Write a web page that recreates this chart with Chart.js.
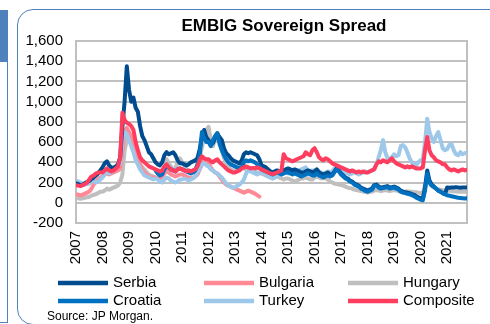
<!DOCTYPE html>
<html>
<head>
<meta charset="utf-8">
<script src="https://cdn.jsdelivr.net/npm/chart.js@4/dist/chart.umd.min.js"></script>
<style>
  html, body { margin: 0; padding: 0; background: #fff; }
  #wrap { position: relative; width: 490px; height: 324px; overflow: hidden; }
  #sidePanel { position: absolute; left: -2px; top: 10px; width: 10px; height: 313px;
    box-sizing: border-box; border: 1.5px solid #4F81BD; }
  #sidePanel .head { height: 51px; background: #4F81BD; }
  #frame { position: absolute; left: 17px; top: 9px; width: 520px; height: 316px;
    box-sizing: border-box; border: 1.5px solid #4F81BD; border-radius: 16px; }
  #spreadChart { position: absolute; left: 0; top: 0; }
</style>
</head>
<body>
<div id="wrap">
  <div id="sidePanel"><div class="head"></div></div>
  <div id="frame"></div>
  <canvas id="spreadChart" width="490" height="324"></canvas>
</div>
<script>
// monthly readings, Jan 2007 - Oct 2021 (bp)
var startYear = 2007;
var tickYears = [2007, 2008, 2009, 2010, 2011, 2012, 2013, 2014, 2015, 2016, 2017, 2018, 2019, 2020, 2021];

var serbia = [
  190, 185, 175, 180, 195, 205, 215, 235, 250, 270, 290, 320,
  350, 390, 410, 370, 350, 345, 360, 380, 450, 750, 1000, 1350,
  1120, 1000, 1040, 940, 900, 760, 660, 620, 560, 500, 480, 440,
  400, 380, 370, 400, 470, 500, 480, 490, 500, 470, 420, 390,
  390, 380, 370, 380, 400, 410, 420, 440, 530, 650, 720, 650,
  620, 570, 590, 640, 680, 650, 620, 540, 490, 470, 440, 420,
  410, 400, 390, 420, 480, 500, 490, 500, 490, 480, 470, 430,
  370, 360, 350, 330, 310, 300, 310, 320, 310, 300, 320, 330,
  340, 330, 320, 330, 320, 310, 300, 300, 310, 320, 310, 300,
  310, 330, 300, 290, 280, 290, 300, 280, 280, 310, 340, 320,
  290, 270, 250, 240, 220, 210, 190, 180, 170, 150, 140, 130,
  120, 130, 140, 175, 180, 160, 150, 155, 160, 165, 150, 155,
  160, 150, 140, 120, 110, 105, 100, 95, 85, 80, 65, 55,
  45, 40, 150, 320, 220, 180, 160, 140, 120, 110, 95, 85,
  150, 148, 152, 150, 155, 150, 148, 152, 150, 150
];

var bulgaria = [
  85, 80, 75, 80, 90, 100, 110, 140, 180, 210, 230, 250,
  260, 280, 290, 280, 290, 300, 310, 320, 340, 520, 700, 740,
  700, 650, 600, 520, 440, 380, 330, 300, 280, 260, 250, 250,
  250, 240, 230, 260, 290, 320, 300, 280, 270, 260, 270, 280,
  280, 270, 260, 250, 240, 250, 260, 280, 330, 380, 420, 410,
  400, 350, 320, 300, 290, 260, 230, 200, 180, 170, 160, 150,
  140, 130, 120, 110, 100, 110, 120, 110, 100, 90, 75, 60,
  null, null, null, null, null, null, null, null, null, null, null, null,
  null, null, null, null, null, null, null, null, null, null, null, null,
  null, null, null, null, null, null, null, null, null, null, null, null,
  null, null, null, null, null, null, null, null, null, null, null, null,
  null, null, null, null, null, null, null, null, null, null, null, null,
  null, null, null, null, null, null, null, null, null, null, null, null,
  null, null, null, null, null, null, null, null, null, null, null, null,
  null, null, null, null, null, null, null, null, null, null
];

var hungary = [
  50, 45, 40, 45, 50, 55, 60, 70, 80, 85, 95, 110,
  110, 120, 140, 130, 140, 150, 160, 170, 200, 280, 520, 620,
  640, 610, 560, 480, 420, 380, 350, 330, 300, 280, 270, 260,
  250, 240, 230, 240, 320, 430, 390, 360, 330, 330, 420, 440,
  400, 370, 330, 310, 300, 320, 330, 380, 450, 550, 640, 720,
  750, 620, 560, 640, 690, 600, 520, 440, 380, 350, 330, 320,
  320, 340, 350, 360, 340, 330, 340, 330, 320, 310, 300, 290,
  290, 280, 270, 260, 250, 240, 250, 260, 250, 240, 230, 240,
  240, 230, 220, 210, 220, 230, 240, 240, 250, 240, 230, 230,
  250, 260, 250, 240, 245, 240, 230, 210, 200, 190, 185, 180,
  175, 170, 160, 150, 145, 140, 130, 125, 120, 115, 110, 105,
  100, 105, 110, 120, 125, 120, 115, 120, 125, 120, 115, 120,
  125, 120, 115, 115, 110, 110, 115, 110, 110, 105, 105, 100,
  95, 90, 180, 240, 200, 170, 150, 140, 135, 130, 125, 120,
  120, 118, 115, 115, 112, 110, 112, 110, 108, 110
];

var croatia = [
  null, null, null, null, null, null, null, null, null, null, null, null,
  null, null, null, null, null, null, null, null, null, null, null, null,
  null, null, null, null, null, null, null, null, null, null, null, null,
  320, 290, 270, 280, 330, 360, 350, 330, 320, 310, 330, 340,
  330, 320, 310, 300, 290, 300, 320, 380, 470, 700, 640, 600,
  600, 560, 620, 660, 690, 580, 520, 470, 430, 400, 380, 370,
  360, 350, 340, 350, 400, 420, 410, 420, 410, 400, 380, 360,
  330, 320, 310, 300, 290, 280, 290, 300, 290, 280, 290, 300,
  300, 290, 280, 290, 280, 270, 260, 270, 280, 290, 280, 270,
  270, 290, 270, 260, 250, 260, 270, 260, 270, 300, 330, 310,
  280, 260, 240, 230, 210, 200, 180, 170, 160, 140, 130, 115,
  110, 120, 130, 165, 170, 150, 140, 145, 150, 155, 140, 145,
  150, 140, 130, 110, 100, 95, 90, 85, 75, 65, 50, 40,
  30, 25, 120, 290, 200, 170, 160, 140, 120, 110, 95, 85,
  75, 70, 65, 60, 55, 50, 48, 45, 42, 45
];

var turkey = [
  220, 210, 200, 190, 180, 185, 190, 210, 220, 200, 210, 230,
  250, 280, 300, 290, 300, 320, 350, 370, 390, 600, 700, 680,
  620, 560, 500, 420, 380, 330, 300, 270, 260, 250, 240, 230,
  240, 230, 210, 200, 230, 250, 240, 220, 210, 200, 210, 230,
  230, 240, 230, 220, 230, 240, 260, 300, 340, 380, 390, 370,
  360, 330, 320, 300, 290, 270, 250, 220, 190, 170, 160, 150,
  150, 170, 180, 200, 230, 290, 320, 310, 300, 290, 280, 300,
  300, 290, 270, 260, 250, 240, 250, 260, 270, 280, 290, 300,
  290, 300, 310, 300, 310, 320, 330, 340, 350, 320, 310, 320,
  320, 330, 310, 300, 290, 300, 310, 300, 310, 340, 360, 350,
  330, 310, 300, 290, 280, 290, 300, 290, 280, 290, 300, 310,
  300, 310, 320, 340, 380, 450, 520, 620, 500, 440, 430, 450,
  480, 460, 470, 560, 570, 550, 500, 440, 400, 380, 370, 400,
  420, 430, 600, 830, 700, 640, 600, 660, 700, 620, 540, 520,
  530, 570, 580, 520, 480, 470, 500, 480, 490, 500
];

var composite = [
  175, 170, 165, 175, 185, 200, 230, 260, 270, 290, 300, 300,
  300, 320, 340, 320, 310, 320, 340, 360, 450, 890, 820, 790,
  780, 760, 720, 600, 520, 450, 420, 400, 380, 360, 350, 340,
  330, 320, 310, 320, 360, 380, 350, 330, 320, 310, 330, 340,
  330, 320, 310, 320, 310, 320, 330, 360, 420, 460, 440, 430,
  430, 410, 400, 420, 430, 400, 380, 360, 340, 320, 310, 300,
  300, 310, 320, 340, 350, 360, 350, 340, 345, 340, 350, 340,
  330, 320, 310, 300, 290, 285, 290, 300, 310, 320, 480, 440,
  430, 420, 410, 420, 430, 440, 450, 460, 500, 480, 470, 520,
  540, 500, 450, 430, 420, 440, 430, 410, 390, 380, 370, 360,
  350, 340, 330, 320, 310, 320, 310, 300, 310, 300, 310, 300,
  300, 310, 320, 330, 380, 410, 400, 420, 410, 400, 420, 440,
  410, 390, 380, 370, 360, 350, 360, 350, 360, 350, 340, 340,
  340, 350, 520, 650, 520, 470, 450, 420, 410, 400, 380, 380,
  350, 330, 320, 330, 320, 310, 320, 330, 320, 325
];

function toPoints(values) {
  return values.map(function (v, i) { return { x: startYear + i / 12, y: v }; });
}

function series(label, values, color, order) {
  return {
    label: label,
    data: toPoints(values),
    borderColor: color,
    backgroundColor: color,
    borderWidth: 4,
    borderJoinStyle: 'round',
    borderCapStyle: 'round',
    pointRadius: 0,
    tension: 0,
    spanGaps: false,
    order: order
  };
}

var gridGrey = '#C0C0C0';

// legend laid out as a fixed 3x2 grid under the axis
var gridLegend = {
  id: 'gridLegend',
  afterDraw: function (chart) {
    var ctx = chart.ctx;
    var cols = [58, 204, 348];
    var rows = [283, 301];
    ctx.save();
    ctx.font = '15px "Liberation Sans", Arial, sans-serif';
    ctx.textBaseline = 'middle';
    ctx.fillStyle = '#000';
    chart.data.datasets.forEach(function (ds, i) {
      var x = cols[i % 3];
      var y = rows[Math.floor(i / 3)];
      ctx.strokeStyle = ds.borderColor;
      ctx.lineWidth = 4.5;
      ctx.lineCap = 'butt';
      ctx.beginPath();
      ctx.moveTo(x, y);
      ctx.lineTo(x + 50, y);
      ctx.stroke();
      ctx.fillText(ds.label, x + 55, y);
    });
    ctx.font = '12px "Liberation Sans", Arial, sans-serif';
    ctx.fillText('Source: JP Morgan.', 47, 317);
    ctx.font = 'bold 17px "Liberation Sans", Arial, sans-serif';
    ctx.textAlign = 'center';
    ctx.fillText('EMBIG Sovereign Spread', 284, 26);
    ctx.restore();
  }
};

// grey box round the plot area
var plotBox = {
  id: 'plotBox',
  beforeDatasetsDraw: function (chart) {
    var a = chart.chartArea;
    var ctx = chart.ctx;
    ctx.save();
    ctx.strokeStyle = gridGrey;
    ctx.lineWidth = 2;
    ctx.strokeRect(a.left, a.top, a.right - a.left, a.bottom - a.top);
    ctx.restore();
  }
};

Chart.defaults.font.family = '"Liberation Sans", Arial, sans-serif';
Chart.defaults.font.size = 15;
Chart.defaults.color = '#000';

var ctx = document.getElementById('spreadChart').getContext('2d');
var spreadChart = new Chart(ctx, {
  type: 'line',
  data: {
    datasets: [
      series('Serbia', serbia, '#004C8E', 2),
      series('Bulgaria', bulgaria, '#FF8A96', 4),
      series('Hungary', hungary, '#BFBFBF', 5),
      series('Croatia', croatia, '#0070C0', 1),
      series('Turkey', turkey, '#9DC8EA', 3),
      series('Composite', composite, '#FF3D5F', 0)
    ]
  },
  options: {
    responsive: false,
    animation: false,
    layout: { padding: { left: 0, right: 23, top: 41, bottom: 0 } },
    plugins: {
      legend: { display: false },
      title: { display: false },
      tooltip: { enabled: false }
    },
    scales: {
      x: {
        type: 'linear',
        min: 2007,
        max: 2021.75,
        grid: { display: false, drawTicks: false },
        border: { display: false },
        afterBuildTicks: function (scale) {
          scale.ticks = tickYears.map(function (v) { return { value: v }; });
        },
        afterFit: function (scale) { scale.height = 101; },
        ticks: {
          autoSkip: false,
          minRotation: 90,
          maxRotation: 90,
          padding: 8,
          callback: function (v) { return String(v); }
        }
      },
      y: {
        min: -200,
        max: 1600,
        grid: { color: gridGrey, lineWidth: 2, drawTicks: false },
        border: { color: gridGrey, width: 2 },
        afterFit: function (scale) { scale.width = 76; },
        ticks: { stepSize: 200, padding: 13, autoSkip: false }
      }
    }
  },
  plugins: [plotBox, gridLegend]
});
</script>
</body>
</html>
